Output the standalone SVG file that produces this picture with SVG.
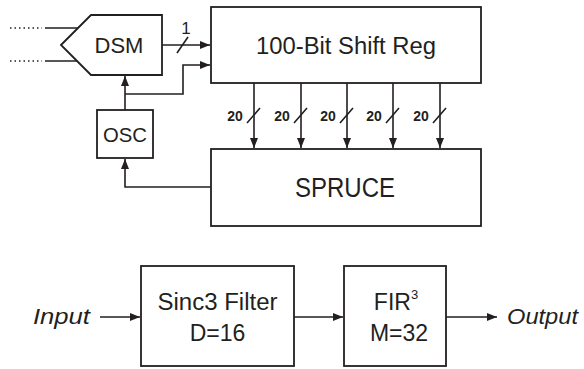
<svg xmlns="http://www.w3.org/2000/svg" width="584" height="369" viewBox="0 0 584 369">
<style>
.box{fill:#fff;stroke:#231f20;stroke-width:1.8}
.ln{fill:none;stroke:#231f20;stroke-width:1.6}
.t{font-family:"Liberation Sans",Arial,sans-serif;fill:#231f20;text-anchor:middle}
.b{font-family:"Liberation Sans",Arial,sans-serif;font-weight:bold;fill:#231f20;font-size:14px;text-anchor:middle}
.i{font-family:"Liberation Sans",Arial,sans-serif;font-style:italic;fill:#231f20;font-size:22px}
</style>
<defs>
<marker id="ah" viewBox="0 0 10 10" refX="10" refY="5" markerWidth="10" markerHeight="10" markerUnits="userSpaceOnUse" orient="auto">
<path d="M0,1 L10,5 L0,9 Z" fill="#231f20"/>
</marker>
</defs>
<rect width="584" height="369" fill="#fff"/>
<g id="connectors">
<path class="ln" d="M10,28 H42 M10,61 H42" stroke-dasharray="1.5 3"/>
<path class="ln" d="M45,28 H78 M45,61 H77"/>
<path class="ln" d="M162,45 H210" marker-end="url(#ah)"/>
<path class="ln" d="M177,53 L188,37"/>
<path class="ln" d="M125,110 V76" marker-end="url(#ah)"/>
<path class="ln" d="M125,94 H183 V65 H210" marker-end="url(#ah)"/>
<path class="ln" d="M254,83 V148" marker-end="url(#ah)"/>
<path class="ln" d="M301,83 V148" marker-end="url(#ah)"/>
<path class="ln" d="M347,83 V148" marker-end="url(#ah)"/>
<path class="ln" d="M393,83 V148" marker-end="url(#ah)"/>
<path class="ln" d="M440,83 V148" marker-end="url(#ah)"/>
<path class="ln" d="M247,123 L260,108 M294,123 L307,108 M340,123 L353,108 M386,123 L399,108 M433,123 L446,108"/>
<path class="ln" d="M211,187 H125 V159" marker-end="url(#ah)"/>
<path class="ln" d="M100,317 H140" marker-end="url(#ah)"/>
<path class="ln" d="M294,317 H343" marker-end="url(#ah)"/>
<path class="ln" d="M446,317 H497" marker-end="url(#ah)"/>
<text class="t" x="186" y="34" font-size="17">1</text>
<text class="b" x="235" y="121">20</text>
<text class="b" x="282" y="121">20</text>
<text class="b" x="328" y="121">20</text>
<text class="b" x="374" y="121">20</text>
<text class="b" x="421" y="121">20</text>
</g>
<g id="dsm">
<polygon class="box" points="61,45 91,15 162,15 162,75 91,75"/>
<text class="t" x="119" y="53" font-size="22">DSM</text>
</g>
<g id="shiftreg">
<rect class="box" x="211" y="7" width="270" height="76"/>
<text class="t" x="346" y="54" font-size="23" textLength="180" lengthAdjust="spacingAndGlyphs">100-Bit Shift Reg</text>
</g>
<g id="osc">
<rect class="box" x="97" y="110" width="56" height="48"/>
<text class="t" x="125" y="142" font-size="21" textLength="44" lengthAdjust="spacingAndGlyphs">OSC</text>
</g>
<g id="spruce">
<rect class="box" x="211" y="149" width="270" height="77"/>
<text class="t" x="345" y="197" font-size="27" textLength="100" lengthAdjust="spacingAndGlyphs">SPRUCE</text>
</g>
<g id="input">
<text class="i" x="33" y="324" textLength="57" lengthAdjust="spacingAndGlyphs">Input</text>
</g>
<g id="sinc3">
<rect class="box" x="141" y="266" width="153" height="100"/>
<text class="t" x="217.5" y="310" font-size="23" textLength="120" lengthAdjust="spacingAndGlyphs">Sinc3 Filter</text>
<text class="t" x="217.5" y="341" font-size="23">D=16</text>
</g>
<g id="fir">
<rect class="box" x="344" y="266" width="102" height="100"/>
<text class="t" x="396" y="310" font-size="23">FIR<tspan font-size="13" dy="-11">3</tspan></text>
<text class="t" x="399" y="341" font-size="23">M=32</text>
</g>
<g id="output">
<text class="i" x="507" y="324" textLength="71" lengthAdjust="spacingAndGlyphs">Output</text>
</g>
</svg>
